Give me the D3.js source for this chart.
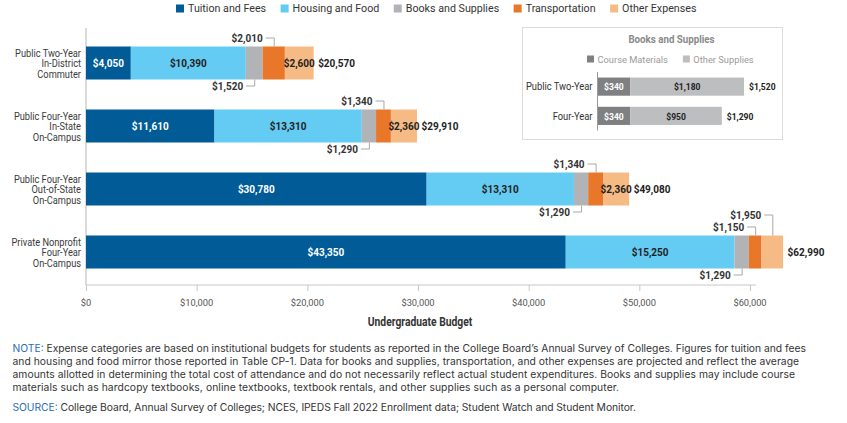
<!DOCTYPE html>
<html>
<head>
<meta charset="utf-8">
<script src="https://cdn.jsdelivr.net/npm/d3@7"></script>
<style>
  html, body { margin: 0; padding: 0; background: #fff; }
  svg { display: block; }
  text { font-family: 'Roboto', 'Liberation Sans', sans-serif; }
  .note { font-family: 'Inter', 'Roboto', sans-serif; }
</style>
</head>
<body>
<svg id="chart" width="847" height="423"></svg>
<script>
// ---------- DATA ----------
const categories = [
  "Public Two-Year\nIn-District\nCommuter",
  "Public Four-Year\nIn-State\nOn-Campus",
  "Public Four-Year\nOut-of-State\nOn-Campus",
  "Private Nonprofit\nFour-Year\nOn-Campus"
];
const seriesNames = ["Tuition and Fees", "Housing and Food", "Books and Supplies", "Transportation", "Other Expenses"];
const tuition   = [4050, 11610, 30780, 43350];
const housing   = [10390, 13310, 13310, 15250];
const books     = [1520, 1290, 1290, 1290];
const transport = [2010, 1340, 1340, 1150];
const other     = [2600, 2360, 2360, 1950];
const totals    = [20570, 29910, 49080, 62990];
const xTicks    = [0, 10000, 20000, 30000, 40000, 50000, 60000];
const xTitle    = "Undergraduate Budget";

const insetTitle = "Books and Supplies";
const insetSeriesNames = ["Course Materials", "Other Supplies"];
const insetCategories = ["Public Two-Year", "Four-Year"];
const courseMaterials = [340, 340];
const otherSupplies   = [1180, 950];
const insetTotals     = [1520, 1290];

const noteLines = [
  ["NOTE:", " Expense categories are based on institutional budgets for students as reported in the College Board\u2019s Annual Survey of Colleges. Figures for tuition and fees"],
  ["", "and housing and food mirror those reported in Table CP-1. Data for books and supplies, transportation, and other expenses are projected and reflect the average"],
  ["", "amounts allotted in determining the total cost of attendance and do not necessarily reflect actual student expenditures. Books and supplies may include course"],
  ["", "materials such as hardcopy textbooks, online textbooks, textbook rentals, and other supplies such as a personal computer."]
];
const sourceLine = ["SOURCE:", " College Board, Annual Survey of Colleges; NCES, IPEDS Fall 2022 Enrollment data; Student Watch and Student Monitor."];

// ---------- STYLE ----------
const colors = ["#005b96", "#64cbf3", "#b2b3b6", "#e8772a", "#f6bb85"];
const insetColors = ["#808083", "#bdbec0"];
const fmt = d3.format("$,");
const NARROW = 0.87;   // horizontal compression emulating the condensed face

const svg = d3.select("#chart");

// text helper: draws text at (x,y) compressed horizontally by sx
function txt(parent, o) {
  const sx = o.sx == null ? 1 : o.sx;
  const t = parent.append("text")
    .attr("transform", `translate(${o.x},${o.y}) scale(${sx},1)`)
    .attr("text-anchor", o.anchor || "start")
    .attr("dominant-baseline", "central")
    .attr("font-size", o.size || 10.5)
    .attr("font-weight", o.weight || "normal")
    .attr("fill", o.fill || "#333");
  if (o.lines) {
    o.lines.forEach((ln, k) => t.append("tspan").attr("x", 0).attr("y", (k - (o.lines.length - 1) / 2) * o.lh).text(ln));
  } else {
    t.text(o.text);
  }
  t.node().__w = t.node().getComputedTextLength() * sx;
  return t;
}

// ---------- SCALES ----------
const x = d3.scaleLinear().domain([0, 60000]).range([86, 750]);
const y = d3.scaleBand().domain(categories).range([31.5, 283.5]).paddingInner(30 / 63).paddingOuter(15 / 63);

const rows = categories.map((c, i) => ({
  cat: c, "Tuition and Fees": tuition[i], "Housing and Food": housing[i],
  "Books and Supplies": books[i], "Transportation": transport[i], "Other Expenses": other[i], total: totals[i]
}));
const stacked = d3.stack().keys(seriesNames)(rows);

// ---------- LEGEND ----------
const legend = svg.append("g");
let lx = 176;
seriesNames.forEach((name, i) => {
  legend.append("rect").attr("x", lx).attr("y", 4.5).attr("width", 8).attr("height", 8).attr("fill", colors[i]);
  const t = txt(legend, { x: lx + 12, y: 8.5, text: name, size: 10.8, fill: "#333", sx: 0.99 });
  lx = lx + 12 + t.node().__w + 14.5;
});

// ---------- AXES ----------
const axisY = 285;
svg.append("line").attr("x1", x(0)).attr("x2", x(0)).attr("y1", 28).attr("y2", axisY)
  .attr("stroke", "#cfcfcf").attr("stroke-width", 1.5);

const xAxis = svg.append("g").attr("transform", `translate(0,${axisY})`)
  .call(d3.axisBottom(x).tickValues(xTicks).tickSize(6).tickFormat(""));
xAxis.select(".domain").remove();
xAxis.selectAll(".tick line").attr("stroke", "#c8c8c8");
xTicks.forEach(v => txt(svg, { x: x(v), y: axisY + 17, text: fmt(v), size: 9.5, fill: "#555", anchor: "middle", sx: 0.98 }));
svg.append("line").attr("x1", x(0)).attr("x2", x(60000) + 6).attr("y1", axisY).attr("y2", axisY)
  .attr("stroke", "#c8c8c8").attr("stroke-width", 1);

txt(svg, { x: x(30000) + 2, y: 322, text: xTitle, size: 12, weight: "bold", fill: "#333", anchor: "middle", sx: 0.86 });

// category labels
categories.forEach(c => {
  txt(svg, { x: x(0) - 5, y: y(c) + y.bandwidth() / 2, lines: c.split("\n"), lh: 10.5,
             size: 10.4, fill: "#3a3a3a", anchor: "end", sx: 0.89 });
});

// ---------- BARS ----------
stacked.forEach((layer, si) => {
  svg.append("g").selectAll("rect").data(layer).join("rect")
    .attr("x", d => x(d[0])).attr("width", d => x(d[1]) - x(d[0]))
    .attr("y", d => y(d.data.cat)).attr("height", y.bandwidth())
    .attr("fill", colors[si]);
});

// ---------- LABELS ----------
const lab = svg.append("g");
function valText(xp, yp, s, fill, anchor) {
  return txt(lab, { x: xp, y: yp, text: s, size: 11.5, weight: "bold", fill: fill, anchor: anchor, sx: NARROW });
}
function leader(cx, edgeY, ty, s) {
  valText(cx - 11, ty, s, "#333", "end");
  lab.append("path").attr("d", `M${cx - 8},${ty}H${cx + 0.5}V${edgeY}`)
    .attr("fill", "none").attr("stroke", "#a8a8a8").attr("stroke-width", 1);
}
stacked.forEach((layer, si) => {
  layer.forEach(d => {
    const x0 = x(d[0]), x1 = x(d[1]);
    const cx = (x0 + x1) / 2;
    const top = y(d.data.cat), bot = top + y.bandwidth(), mid = top + y.bandwidth() / 2;
    const v = d[1] - d[0];
    const name = seriesNames[si];
    if (name === "Tuition and Fees") {
      valText(cx, mid, fmt(v), "#fff", "middle");
    } else if (name === "Housing and Food") {
      valText(cx, mid, fmt(v), "#222", "middle");
    } else if (name === "Books and Supplies") {
      leader(cx, bot, bot + 6.5, fmt(v));
    } else if (name === "Transportation") {
      leader(cx, top, top - 8.5, fmt(v));
    } else {
      // inside when the segment is at least ~80% of the label width, else lifted above
      const t = valText(cx, mid, fmt(v), "#222", "middle");
      if ((x1 - x0) < 0.8 * t.node().__w) {
        t.remove();
        leader(cx, top, top - 20.5, fmt(v));
      }
    }
  });
});
rows.forEach(r => {
  valText(x(r.total) + 4.5, y(r.cat) + y.bandwidth() / 2, fmt(r.total), "#222", "start");
});

// ---------- INSET ----------
const inset = svg.append("g");
inset.append("rect").attr("x", 522.5).attr("y", 27.5).attr("width", 260).attr("height", 112)
  .attr("fill", "#fff").attr("stroke", "#dcdcdc").attr("stroke-width", 1);
txt(inset, { x: 671.5, y: 39, text: insetTitle, size: 10.6, weight: "bold", fill: "#8a8a8a", anchor: "middle", sx: 0.92 });

let ilx = 587;
insetSeriesNames.forEach((name, i) => {
  inset.append("rect").attr("x", ilx).attr("y", 55.5).attr("width", 7).attr("height", 7).attr("fill", insetColors[i]);
  const t = txt(inset, { x: ilx + 10.5, y: 59, text: name, size: 9.8, fill: "#9a9a9a", sx: 0.95 });
  ilx = ilx + 10.5 + t.node().__w + 15;
});

const ix = d3.scaleLinear().domain([0, 1520]).range([597.5, 744]);
const iy = d3.scaleBand().domain(insetCategories).range([72, 130.5]).paddingInner(11 / 29).paddingOuter(5.5 / 29);
const irows = insetCategories.map((c, i) => ({ cat: c, "Course Materials": courseMaterials[i], "Other Supplies": otherSupplies[i], total: insetTotals[i] }));
const istack = d3.stack().keys(insetSeriesNames)(irows);
istack.forEach((layer, si) => {
  inset.append("g").selectAll("rect").data(layer).join("rect")
    .attr("x", d => ix(d[0])).attr("width", d => ix(d[1]) - ix(d[0]))
    .attr("y", d => iy(d.data.cat)).attr("height", iy.bandwidth()).attr("fill", insetColors[si]);
  layer.forEach(d => {
    txt(inset, { x: (ix(d[0]) + ix(d[1])) / 2, y: iy(d.data.cat) + iy.bandwidth() / 2, text: fmt(d[1] - d[0]),
                 size: 9.8, weight: "bold", fill: si === 0 ? "#fff" : "#222", anchor: "middle", sx: 0.87 });
  });
});
inset.append("line").attr("x1", ix(0)).attr("x2", ix(0)).attr("y1", 72).attr("y2", 130.5)
  .attr("stroke", "#999").attr("stroke-width", 1);
irows.forEach(r => {
  const cy = iy(r.cat) + iy.bandwidth() / 2;
  txt(inset, { x: ix(0) - 5, y: cy, text: r.cat, size: 10.4, fill: "#333", anchor: "end", sx: 0.9 });
  txt(inset, { x: ix(r.total) + 5, y: cy, text: fmt(r.total), size: 9.8, weight: "bold", fill: "#222", sx: 0.87 });
});

// ---------- NOTES ----------
const notes = svg.append("g");
const noteY = [347.5, 361, 374.3, 387];
const noteEnds = [806, 799, 795, 619];
noteLines.forEach((ln, k) => {
  const t = notes.append("text").attr("class", "note").attr("x", 12.5).attr("y", noteY[k])
    .attr("dominant-baseline", "central").attr("font-size", 10.3).attr("fill", "#333")
    .attr("textLength", noteEnds[k] - 12.5).attr("lengthAdjust", "spacing");
  if (ln[0]) t.append("tspan").attr("fill", "#2a6db2").text(ln[0]);
  t.append("tspan").text(ln[1]);
});
const st = notes.append("text").attr("class", "note").attr("x", 12.5).attr("y", 406.7)
  .attr("dominant-baseline", "central").attr("font-size", 10.3).attr("fill", "#333")
  .attr("textLength", 636 - 12.5).attr("lengthAdjust", "spacing");
st.append("tspan").attr("fill", "#2a6db2").text(sourceLine[0]);
st.append("tspan").text(sourceLine[1]);
</script>
</body>
</html>
